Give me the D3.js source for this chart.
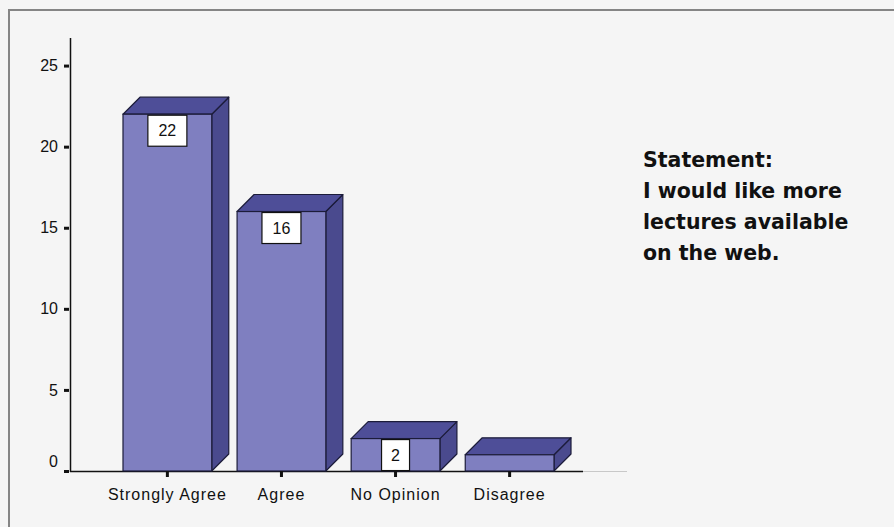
<!DOCTYPE html>
<html>
<head>
<meta charset="utf-8">
<script src="https://cdn.jsdelivr.net/npm/d3@7"></script>
<style>
  html, body { margin: 0; padding: 0; background: #f5f5f5; }
  svg { display: block; }
</style>
</head>
<body>
<svg id="chart" width="894" height="527"></svg>
<script>
// ---- data ----
const categories = ["Strongly Agree", "Agree", "No Opinion", "Disagree"];
const counts = [22, 16, 2, 1];
const valueLabels = ["22", "16", "2", null];
const yTicks = [0, 5, 10, 15, 20, 25];
const statementLines = ["Statement:", "I would like more", "lectures available", "on the web."];

// ---- layout ----
const W = 894, H = 527;
const axisX = 70, baseY = 471, topY = 38;
const depth = 17;
const frontColor = "#7f7fc0";
const topColor = "#4e4e98";
const sideColor = "#4a4a8e";
const edgeColor = "#1c1c3a";

const svg = d3.select("#chart");

// background and frame
svg.append("rect").attr("width", W).attr("height", H).attr("fill", "#f5f5f5");
svg.append("path")
  .attr("d", `M9,${H} V10 H${W}`)
  .attr("fill", "none").attr("stroke", "#858585").attr("stroke-width", 2);

const y = d3.scaleLinear().domain([0, 26.7]).range([baseY, topY]);
const x = d3.scaleBand().domain(categories).range([123, 554]).paddingInner(0.222).paddingOuter(0);

// baseline extension (light)
svg.append("line").attr("x1", axisX).attr("x2", 627).attr("y1", baseY + 0.5).attr("y2", baseY + 0.5)
  .attr("stroke", "#c8c8c8").attr("stroke-width", 1);
svg.append("line").attr("x1", axisX).attr("x2", 583).attr("y1", baseY + 0.5).attr("y2", baseY + 0.5)
  .attr("stroke", "#111").attr("stroke-width", 1.5);

// y axis
const yAxis = d3.axisLeft(y).tickValues(yTicks).tickSize(6).tickSizeOuter(0).tickPadding(6);
const yg = svg.append("g").attr("transform", `translate(${axisX},0)`).call(yAxis);
yg.select(".domain").attr("stroke", "#111").attr("stroke-width", 1.5)
  .attr("d", `M0.5,${topY}V${baseY + 1}`);
yg.selectAll(".tick line").attr("stroke", "#111").attr("stroke-width", 3).attr("x1", -1);
yg.selectAll(".tick text")
  .attr("font-family", "Liberation Sans, Arial, sans-serif")
  .attr("font-size", 16).attr("fill", "#111")
  .attr("dy", d => d === 0 ? "-0.3em" : "0.32em");

// bars
const bars = svg.append("g").selectAll("g.bar").data(categories).join("g").attr("class", "bar");
bars.each(function(c, i) {
  const g = d3.select(this);
  const x0 = x(c), x1 = x(c) + x.bandwidth();
  const yt = y(counts[i]), yb = y(0);
  // side face
  g.append("path")
    .attr("d", `M${x1},${yb} L${x1},${yt} L${x1 + depth},${yt - depth} L${x1 + depth},${yb - depth} Z`)
    .attr("fill", sideColor).attr("stroke", edgeColor).attr("stroke-width", 1.2).attr("stroke-linejoin", "round");
  // top face
  g.append("path")
    .attr("d", `M${x0},${yt} L${x0 + depth},${yt - depth} L${x1 + depth},${yt - depth} L${x1},${yt} Z`)
    .attr("fill", topColor).attr("stroke", edgeColor).attr("stroke-width", 1.2).attr("stroke-linejoin", "round");
  // front face
  g.append("rect")
    .attr("x", x0).attr("y", yt).attr("width", x.bandwidth()).attr("height", yb - yt)
    .attr("fill", frontColor).attr("stroke", edgeColor).attr("stroke-width", 1.2);
  // value label box
  if (valueLabels[i]) {
    const bw = valueLabels[i].length > 1 ? 39 : 28;
    const bh = Math.min(32, yb - yt);
    const cx = x0 + x.bandwidth() / 2;
    g.append("rect")
      .attr("x", cx - bw / 2).attr("y", yt + 1).attr("width", bw).attr("height", bh - 1)
      .attr("fill", "#ffffff").attr("stroke", "#111").attr("stroke-width", 1.2);
    g.append("text")
      .attr("x", cx).attr("y", yt + 22)
      .attr("text-anchor", "middle")
      .attr("font-family", "Liberation Sans, Arial, sans-serif")
      .attr("font-size", 16).attr("fill", "#111")
      .text(valueLabels[i]);
  }
});

// x axis ticks and labels
const xAxis = d3.axisBottom(x).tickSize(6).tickSizeOuter(0).tickPadding(8);
const xg = svg.append("g").attr("transform", `translate(0,${baseY})`).call(xAxis);
xg.select(".domain").remove();
xg.selectAll(".tick line").attr("stroke", "#111").attr("stroke-width", 3);
xg.selectAll(".tick text")
  .attr("font-family", "Liberation Sans, Arial, sans-serif")
  .attr("font-size", 16).attr("letter-spacing", "1px").attr("fill", "#111")
  .attr("dy", "0.95em");

// statement text
svg.append("g").selectAll("text").data(statementLines).join("text")
  .attr("x", 643).attr("y", (d, i) => 167 + i * 31)
  .attr("font-family", "DejaVu Sans, Verdana, sans-serif")
  .attr("font-weight", "bold").attr("font-size", 20.5).attr("fill", "#111")
  .text(d => d);
</script>
</body>
</html>
